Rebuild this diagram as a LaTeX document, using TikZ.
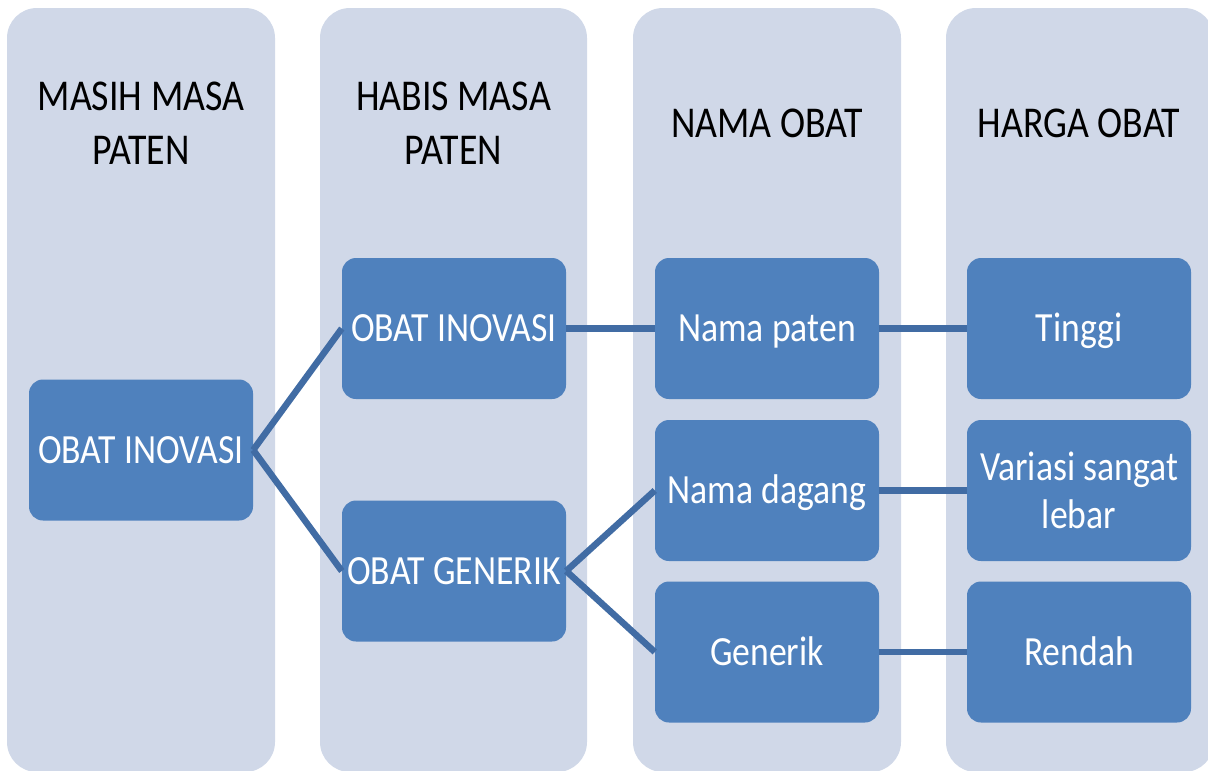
\documentclass[tikz,border=0pt]{standalone}
\usepackage{fontspec}
\setmainfont{Carlito}[FakeStretch=0.86]
\definecolor{colbg}{HTML}{D0D8E8}
\definecolor{boxbg}{HTML}{4F81BD}
\definecolor{lineblue}{HTML}{416CA4}
\tikzset{
  column/.style={fill=colbg, rounded corners=30pt},
  header/.style={text=black, align=center, anchor=center,
    font=\fontsize{44}{54}\selectfont},
  box/.style={fill=boxbg, rounded corners=14pt, minimum width=224pt,
    minimum height=141pt, text=white, align=center, inner sep=0pt,
    font=\fontsize{41.5}{48.5}\selectfont},
  oneline/.style={text height=26.7pt, text depth=0pt},
  link/.style={draw=lineblue, line width=6.5pt}
}
\begin{document}
\begin{tikzpicture}[x=1pt,y=-1pt]
\useasboundingbox (0,0) rectangle (1208,771);
\clip (0,0) rectangle (1208,771);
% columns
\path[column] (7,8) rectangle (275,772);
\path[column] (320,8) rectangle (587,772);
\path[column] (633,8) rectangle (901,772);
\path[column] (946,8) rectangle (1214,772);
% headers
\node[header] (h1) at (141,123) {MASIH MASA\\PATEN};
\node[header] (h2) at (453.5,123) {HABIS MASA\\PATEN};
\node[header] (h3) at (767,123) {NAMA OBAT};
\node[header] (h4) at (1079,123) {HARGA OBAT};
% boxes
\node[box,oneline] (a) at (141,450) {OBAT INOVASI};
\node[box,oneline] (b1) at (454,328.5) {OBAT INOVASI};
\node[box,oneline] (b2) at (454,571) {OBAT GENERIK};
\node[box,oneline] (c1) at (767,328.5) {Nama paten};
\node[box,oneline] (c2) at (767,490.5) {Nama dagang};
\node[box,oneline] (c3) at (767,652) {Generik};
\node[box,oneline] (d1) at (1079,328.5) {Tinggi};
\node[box] (d2) at (1079,490.5) {Variasi sangat\\lebar};
\node[box,oneline] (d3) at (1079,652) {Rendah};
% connectors
\draw[link] (a.east) -- (b1.west);
\draw[link] (a.east) -- (b2.west);
\draw[link] (b1.east) -- (c1.west);
\draw[link] (b2.east) -- (c2.west);
\draw[link] (b2.east) -- (c3.west);
\draw[link] (c1.east) -- (d1.west);
\draw[link] (c2.east) -- (d2.west);
\draw[link] (c3.east) -- (d3.west);
\end{tikzpicture}
\end{document}
